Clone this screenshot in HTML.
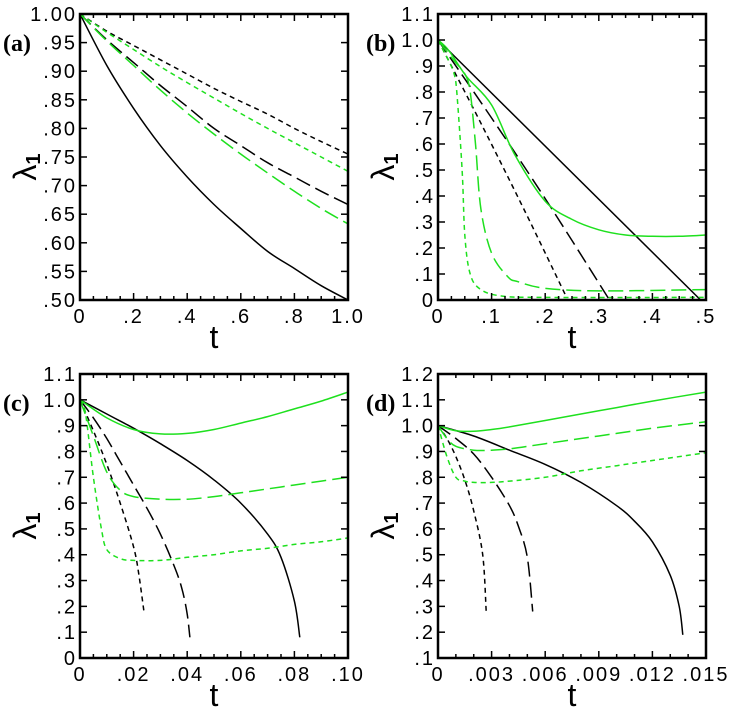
<!DOCTYPE html>
<html><head><meta charset="utf-8">
<style>
html,body{margin:0;padding:0;background:#fff;}
svg{display:block;font-family:"Liberation Sans",sans-serif;}
.tl{font-size:20px;letter-spacing:2px;fill:#000;}
.pl{font-family:"Liberation Serif",serif;font-size:24px;font-weight:bold;fill:#000;}
.ax{font-size:32px;fill:#000;}
</style></head>
<body>
<svg id="fig" width="732" height="713" viewBox="0 0 732 713"></svg>
<script>
// ---- Panel (a) data ----
const aT = [0,.1,.2,.3,.4,.5,.6,.7,.8,.9,1];
const aBlackSolid = [1,.91,.835,.77,.715,.667,.625,.585,.555,.525,.50];
const aBlackShort = [1,.97,.945,.92,.895,.87,.847,.825,.80,.777,.755];
const aGreenShort = [1,.968,.938,.908,.88,.853,.826,.80,.775,.75,.725];
const aBlackLong = [1,.955,.915,.875,.838,.80,.77,.74,.715,.69,.667];
const aGreenLong = [1,.953,.91,.867,.827,.79,.755,.722,.69,.66,.633];
const aXLabels = ["0",".2",".4",".6",".8","1.0"];
const aYLabels = [".50",".55",".60",".65",".70",".75",".80",".85",".90",".95","1.00"];
// ---- Panel (b) data ----
const bBlackSolidT = [0,.49]; const bBlackSolid = [1,0];
const bBlackLongT = [0,.1,.2,.32]; const bBlackLong = [1,.7,.39,0];
const bBlackShortT = [0,.08,.16,.24]; const bBlackShort = [1,.68,.35,.01];
const bGreenSolidT = [0,.02,.053,.1,.143,.2,.25,.3,.35,.4,.45,.5];
const bGreenSolid = [1,.96,.86,.75,.56,.38,.31,.27,.25,.245,.245,.25];
const bGreenLongT = [0,.03,.05,.06,.07,.08,.1,.13,.15,.2,.3,.5];
const bGreenLong = [1,.92,.87,.80,.6,.35,.18,.09,.07,.045,.035,.04];
const bGreenShortT = [0,.02,.03,.035,.045,.05,.06,.08,.12,.2,.5];
const bGreenShort = [1,.92,.87,.8,.5,.25,.1,.04,.015,.01,.01];
const bXLabels = ["0",".1",".2",".3",".4",".5"];
const bYLabels = ["0",".1",".2",".3",".4",".5",".6",".7",".8",".9","1.0","1.1"];
// ---- Panel (c) data ----
const cBlackSolidT = [0,.01,.02,.03,.04,.05,.06,.07,.075,.08,.082];
const cBlackSolid = [1,.945,.89,.83,.765,.69,.6,.48,.39,.22,.08];
const cBlackLongT = [0,.005,.01,.015,.02,.025,.03,.035,.038,.04,.041];
const cBlackLong = [1,.93,.85,.76,.67,.58,.48,.36,.27,.17,.08];
const cBlackShortT = [0,.005,.01,.015,.02,.022,.024];
const cBlackShort = [1,.88,.75,.6,.43,.32,.17];
const cGreenSolidT = [0,.01,.02,.03,.04,.05,.06,.07,.08,.09,.1];
const cGreenSolid = [1,.93,.885,.868,.87,.885,.91,.935,.965,.995,1.03];
const cGreenLongT = [0,.005,.01,.015,.02,.03,.04,.05,.06,.07,.08,.09,.1];
const cGreenLong = [1,.86,.72,.65,.625,.615,.615,.625,.64,.655,.67,.685,.70];
const cGreenShortT = [0,.002,.005,.008,.01,.015,.02,.03,.04,.05,.06,.07,.08,.09,.1];
const cGreenShort = [1,.95,.7,.5,.42,.385,.378,.378,.39,.40,.415,.425,.44,.45,.465];
const cXLabels = ["0",".02",".04",".06",".08",".10"];
const cYLabels = ["0",".1",".2",".3",".4",".5",".6",".7",".8",".9","1.0","1.1"];
// ---- Panel (d) data ----
const dBlackSolidT = [0,.002,.004,.006,.008,.01,.011,.012,.013,.0135,.0137];
const dBlackSolid = [1,.96,.905,.85,.78,.69,.63,.55,.42,.3,.19];
const dBlackLongT = [0,.001,.002,.003,.004,.0045,.005,.0053];
const dBlackLong = [1,.95,.89,.80,.69,.61,.49,.28];
const dBlackShortT = [0,.0005,.001,.0015,.002,.0025,.0027];
const dBlackShort = [1,.95,.88,.79,.67,.5,.28];
const dGreenSolidT = [0,.001,.002,.003,.004,.006,.008,.01,.012,.015];
const dGreenSolid = [1,.98,.978,.985,.995,1.02,1.045,1.07,1.095,1.13];
const dGreenLongT = [0,.0005,.001,.002,.003,.004,.006,.008,.01,.012,.015];
const dGreenLong = [1,.95,.92,.905,.905,.91,.93,.95,.97,.99,1.015];
const dGreenShortT = [0,.0005,.001,.0015,.002,.003,.004,.006,.008,.01,.012,.015];
const dGreenShort = [1,.88,.80,.785,.78,.78,.785,.80,.825,.845,.865,.895];
const dXLabels = ["0",".003",".006",".009",".012",".015"];
const dYLabels = [".1",".2",".3",".4",".5",".6",".7",".8",".9","1.0","1.1","1.2"];

const NS="http://www.w3.org/2000/svg";
const svg=document.getElementById('fig');
const GREEN="#1ee01e";
const SHORT="5,4", LONG="15,6";
function mk(tag,attrs,parent){const e=document.createElementNS(NS,tag);for(const k in attrs)e.setAttribute(k,attrs[k]);(parent||svg).appendChild(e);return e;}

function smoothPath(P){
  if(P.length<3) return P.map((p,i)=>(i?'L':'M')+p[0].toFixed(1)+','+p[1].toFixed(1)).join(' ');
  let d='M'+P[0][0].toFixed(1)+','+P[0][1].toFixed(1);
  for(let i=0;i<P.length-1;i++){
    const p0=P[i-1]||P[i],p1=P[i],p2=P[i+1],p3=P[i+2]||P[i+1];
    const c1=[p1[0]+(p2[0]-p0[0])/6,p1[1]+(p2[1]-p0[1])/6];
    const c2=[p2[0]-(p3[0]-p1[0])/6,p2[1]-(p3[1]-p1[1])/6];
    d+=' C'+c1.map(v=>v.toFixed(1)).join(',')+' '+c2.map(v=>v.toFixed(1)).join(',')+' '+p2[0].toFixed(1)+','+p2[1].toFixed(1);
  }
  return d;
}

function panel(cfg){
  const g=mk('g',{});
  
  
  const L=cfg.box[0],R=cfg.box[1],T=cfg.box[2],B=cfg.box[3];
  const sx=v=>L+(v-cfg.xmin)/(cfg.xmax-cfg.xmin)*(R-L);
  const sy=v=>B-(v-cfg.ymin)/(cfg.ymax-cfg.ymin)*(B-T);
  const cp=mk('clipPath',{id:'clip'+cfg.id},g);
  mk('rect',{x:L,y:T-1,width:R-L,height:B-T+1},cp);
  cfg.series.forEach(s=>{
    const P=s.t.map((t,i)=>[sx(t),sy(s.v[i])]);
    const p=mk('path',{d:smoothPath(P),fill:'none',stroke:s.c,'stroke-width':1.5,'stroke-dasharray':s.dash||'none','clip-path':'url(#clip'+cfg.id+')'},g);
    
    
  });
  const nX=cfg.xl.length-1, nY=cfg.yl.length-1;
  for(let i=0;i<=nX*cfg.xsub;i++){
    const x=L+i/(nX*cfg.xsub)*(R-L); const len=(i%cfg.xsub===0)?7:4;
    mk('line',{x1:x,x2:x,y1:B,y2:B-len,stroke:'#000','stroke-width':1.5},g);
    mk('line',{x1:x,x2:x,y1:T,y2:T+len,stroke:'#000','stroke-width':1.5},g);
  }
  for(let i=0;i<=nY;i++){
    const y=B-i/nY*(B-T);
    mk('line',{x1:L,x2:L+7,y1:y,y2:y,stroke:'#000','stroke-width':1.5},g);
    mk('line',{x1:R,x2:R-7,y1:y,y2:y,stroke:'#000','stroke-width':1.5},g);
  }
  mk('rect',{x:L,y:T,width:R-L,height:B-T,fill:'none',stroke:'#000','stroke-width':2.5},g);
  cfg.xl.forEach((s,i)=>{
    const t=mk('text',{x:L+i/nX*(R-L),y:B+23,'text-anchor':'middle',class:'tl'},g);
    t.textContent=s;
    
    
  });
  cfg.yl.forEach((s,i)=>{
    const t=mk('text',{x:L-3,y:B-i/nY*(B-T)+7,'text-anchor':'end',class:'tl'},g);
    t.textContent=s;
    
    
  });
  const xt=mk('text',{x:(L+R)/2,y:B+cfg.tdy,'text-anchor':'middle',class:'ax'},g);
  xt.textContent='t';
  
  
  const yx=cfg.lamX, yy=(T+B)/2+10;
  const yt=mk('text',{x:yx,y:yy,transform:'rotate(-90 '+yx+' '+yy+')','text-anchor':'middle',class:'ax'},g);
  yt.innerHTML='λ<tspan font-size="20" dy="4" font-weight="bold">1</tspan>';
  
  
  const pl=mk('text',{x:cfg.plx,y:cfg.ply,class:'pl'},g);
  pl.textContent='('+cfg.id+')';
  
  
}

panel({id:'a',box:[80,348,14,300],xmin:0,xmax:1,ymin:.5,ymax:1,xl:aXLabels,yl:aYLabels,xsub:4,tdy:48,lamX:36,plx:3,ply:51,
 series:[
  {name:'a-black-solid',t:aT,v:aBlackSolid,c:'#000'},
  {name:'a-black-short-dash',t:aT,v:aBlackShort,c:'#000',dash:SHORT},
  {name:'a-green-short-dash',t:aT,v:aGreenShort,c:GREEN,dash:SHORT},
  {name:'a-black-long-dash',t:aT,v:aBlackLong,c:'#000',dash:LONG},
  {name:'a-green-long-dash',t:aT,v:aGreenLong,c:GREEN,dash:LONG}]});
panel({id:'b',box:[438,706,14,300],xmin:0,xmax:.5,ymin:0,ymax:1.1,xl:bXLabels,yl:bYLabels,xsub:4,tdy:48,lamX:394,plx:366,ply:51,
 series:[
  {name:'b-black-solid',t:bBlackSolidT,v:bBlackSolid,c:'#000'},
  {name:'b-black-long-dash',t:bBlackLongT,v:bBlackLong,c:'#000',dash:LONG},
  {name:'b-black-short-dash',t:bBlackShortT,v:bBlackShort,c:'#000',dash:SHORT},
  {name:'b-green-solid',t:bGreenSolidT,v:bGreenSolid,c:GREEN},
  {name:'b-green-long-dash',t:bGreenLongT,v:bGreenLong,c:GREEN,dash:LONG},
  {name:'b-green-short-dash',t:bGreenShortT,v:bGreenShort,c:GREEN,dash:SHORT}]});
panel({id:'c',box:[80,348,374,658],xmin:0,xmax:.1,ymin:0,ymax:1.1,xl:cXLabels,yl:cYLabels,xsub:4,tdy:48,lamX:36,plx:3,ply:411,
 series:[
  {name:'c-black-solid',t:cBlackSolidT,v:cBlackSolid,c:'#000'},
  {name:'c-black-long-dash',t:cBlackLongT,v:cBlackLong,c:'#000',dash:LONG},
  {name:'c-black-short-dash',t:cBlackShortT,v:cBlackShort,c:'#000',dash:SHORT},
  {name:'c-green-solid',t:cGreenSolidT,v:cGreenSolid,c:GREEN},
  {name:'c-green-long-dash',t:cGreenLongT,v:cGreenLong,c:GREEN,dash:LONG},
  {name:'c-green-short-dash',t:cGreenShortT,v:cGreenShort,c:GREEN,dash:SHORT}]});
panel({id:'d',box:[438,706,374,658],xmin:0,xmax:.015,ymin:.1,ymax:1.2,xl:dXLabels,yl:dYLabels,xsub:3,tdy:48,lamX:394,plx:366,ply:411,
 series:[
  {name:'d-black-solid',t:dBlackSolidT,v:dBlackSolid,c:'#000'},
  {name:'d-black-long-dash',t:dBlackLongT,v:dBlackLong,c:'#000',dash:LONG},
  {name:'d-black-short-dash',t:dBlackShortT,v:dBlackShort,c:'#000',dash:SHORT},
  {name:'d-green-solid',t:dGreenSolidT,v:dGreenSolid,c:GREEN},
  {name:'d-green-long-dash',t:dGreenLongT,v:dGreenLong,c:GREEN,dash:LONG},
  {name:'d-green-short-dash',t:dGreenShortT,v:dGreenShort,c:GREEN,dash:SHORT}]});
</script>
</body></html>
